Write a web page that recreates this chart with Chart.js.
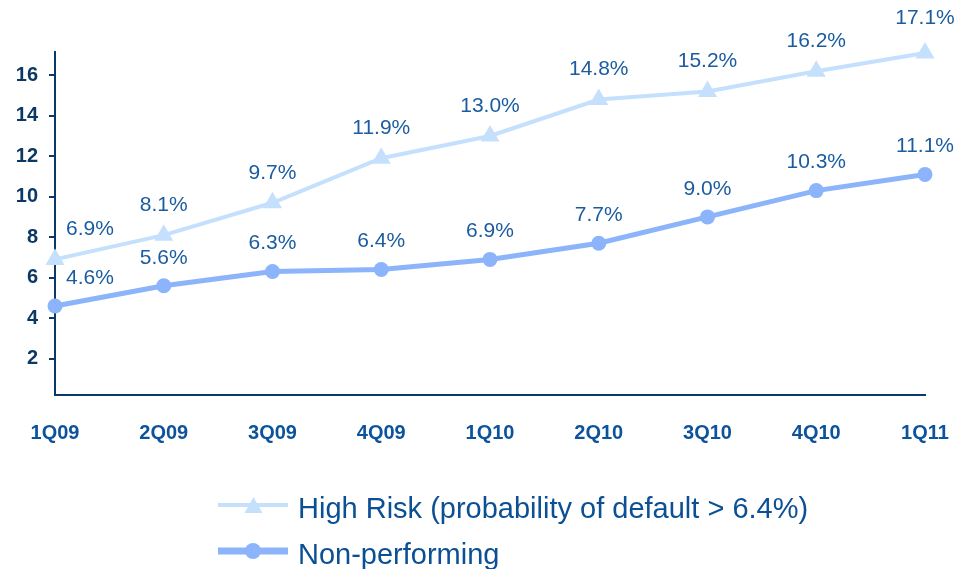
<!DOCTYPE html>
<html>
<head>
<meta charset="utf-8">
<script src="https://cdn.jsdelivr.net/npm/chart.js@4/dist/chart.umd.min.js"></script>
<style>
  html, body { margin: 0; padding: 0; background: #ffffff; }
  #wrap { position: relative; width: 960px; height: 569px; overflow: hidden; }
  #chart { position: absolute; left: 0; top: 0; }
  #legend { position: absolute; left: 0; top: 470px; pointer-events: none; }
</style>
</head>
<body>
<div id="wrap">
  <canvas id="chart" width="960" height="569"></canvas>
  <svg id="legend" width="960" height="99" xmlns="http://www.w3.org/2000/svg">
    <line x1="218" y1="35" x2="288" y2="35" stroke="#c5e0fd" stroke-width="4"/>
    <polygon points="253.5,27 262.5,43 244.5,43" fill="#c5e0fd"/>
    <text x="298" y="48" font-family="Arial, 'Liberation Sans', sans-serif" font-size="29" fill="#0b4f94">High Risk (probability of default &gt; 6.4%)</text>
    <line x1="218" y1="81" x2="288" y2="81" stroke="#8cb4fa" stroke-width="7"/>
    <circle cx="253" cy="81" r="8" fill="#8cb4fa"/>
    <text x="298" y="94" font-family="Arial, 'Liberation Sans', sans-serif" font-size="29" fill="#0b4f94">Non-performing</text>
  </svg>
</div>
<script>
// Quarterly share of the loan book, in percent
const quarters = ['1Q09', '2Q09', '3Q09', '4Q09', '1Q10', '2Q10', '3Q10', '4Q10', '1Q11'];
const highRisk = [6.9, 8.1, 9.7, 11.9, 13.0, 14.8, 15.2, 16.2, 17.1];
const nonPerforming = [4.6, 5.6, 6.3, 6.4, 6.9, 7.7, 9.0, 10.3, 11.1];
const yTicks = [2, 4, 6, 8, 10, 12, 14, 16];

const FONT = 'Arial, "Liberation Sans", sans-serif';
const AXIS = '#0a3a6b';

// Percentage labels above each point
const valueLabels = {
  id: 'valueLabels',
  afterDatasetsDraw(chart) {
    const ctx = chart.ctx;
    ctx.save();
    ctx.font = '21px ' + FONT;
    ctx.fillStyle = '#1a5c9f';
    ctx.textAlign = 'center';
    ctx.textBaseline = 'middle';
    chart.data.datasets.forEach((ds, di) => {
      const meta = chart.getDatasetMeta(di);
      meta.data.forEach((pt, i) => {
        let dx = 0;
        let dy = di === 0 ? -30 : -28;
        if (i === 0) dx = 35;
        if (di === 0 && i === ds.data.length - 1) dy = -35;
        ctx.fillText(ds.data[i].toFixed(1) + '%', pt.x + dx, pt.y + dy);
      });
    });
    ctx.restore();
  }
};

new Chart(document.getElementById('chart'), {
  type: 'line',
  data: {
    labels: quarters,
    datasets: [
      {
        label: 'High Risk (probability of default > 6.4%)',
        data: highRisk,
        borderColor: '#c5e0fd',
        backgroundColor: '#c5e0fd',
        borderWidth: 4,
        pointStyle: 'triangle',
        pointRadius: 11,
        pointBorderWidth: 0,
        pointBackgroundColor: '#c5e0fd',
        tension: 0,
        clip: false
      },
      {
        label: 'Non-performing',
        data: nonPerforming,
        borderColor: '#8cb4fa',
        backgroundColor: '#8cb4fa',
        borderWidth: 5,
        pointStyle: 'circle',
        pointRadius: 7.5,
        pointBorderWidth: 0,
        pointBackgroundColor: '#8cb4fa',
        tension: 0,
        clip: false
      }
    ]
  },
  options: {
    responsive: false,
    animation: false,
    layout: { padding: { top: 52, right: 35, left: 0, bottom: 0 } },
    plugins: {
      legend: { display: false },
      tooltip: { enabled: false }
    },
    scales: {
      x: {
        offset: false,
        grid: { display: true, drawOnChartArea: false, drawTicks: false },
        border: { display: true, color: AXIS, width: 2 },
        ticks: {
          padding: 26,
          color: '#0d539b',
          font: { family: FONT, size: 20, weight: 'bold' },
          maxRotation: 0
        },
        afterFit(scale) {
          scale.height = 174;
          scale.paddingLeft = 0;
          scale.paddingRight = 0;
        }
      },
      y: {
        min: 0.2,
        max: 17.15,
        grid: { display: true, drawOnChartArea: false, drawTicks: true, tickLength: 6, color: AXIS, lineWidth: 2 },
        border: { display: true, color: AXIS, width: 2 },
        ticks: {
          padding: 11,
          color: '#0c3866',
          font: { family: FONT, size: 20, weight: 'bold' }
        },
        afterBuildTicks(scale) { scale.ticks = yTicks.map(v => ({ value: v })); },
        afterFit(scale) { scale.width = 55; }
      }
    }
  },
  plugins: [valueLabels]
});
</script>
</body>
</html>
